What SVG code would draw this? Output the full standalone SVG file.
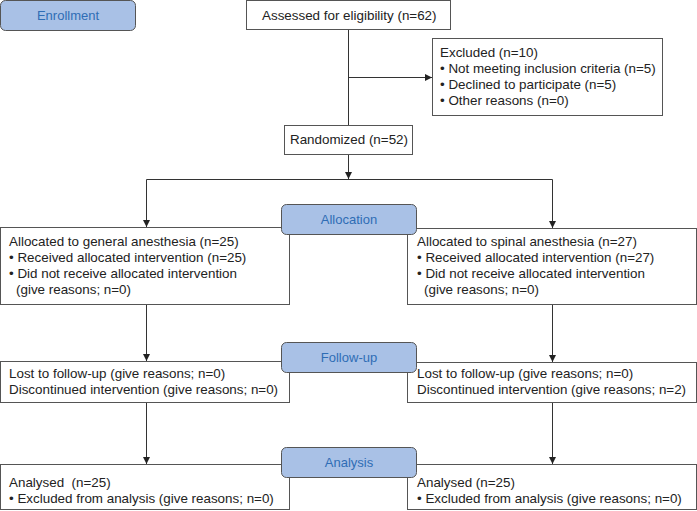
<svg xmlns="http://www.w3.org/2000/svg" width="697" height="511" viewBox="0 0 697 511">
<defs>
<marker id="ah" markerWidth="8" markerHeight="8" refX="7" refY="4" orient="auto" markerUnits="userSpaceOnUse">
<path d="M0,0.5 L7,4 L0,7.5 Z" fill="#222"/>
</marker>
<style>
.box{fill:#fff;stroke:#555;stroke-width:1}
.lab{fill:#a9c1e6;stroke:#555;stroke-width:1}
.t{font-family:"Liberation Sans",Arial,sans-serif;font-size:13.4px;fill:#222}
.lt{font-family:"Liberation Sans",Arial,sans-serif;font-size:13px;fill:#2f6db5;text-anchor:middle}
.c{fill:none;stroke:#333;stroke-width:1}
</style>
</defs>
<rect width="697" height="511" fill="#fff"/>
<g id="enrollment">
<rect class="lab" x="0.5" y="0.5" width="135" height="30" rx="5"/>
<text class="lt" x="68" y="20">Enrollment</text>
</g>
<g id="assessed">
<rect class="box" x="246.5" y="0.5" width="204" height="29"/>
<text class="t" x="262" y="20">Assessed for eligibility (n=62)</text>
</g>
<g id="excluded">
<rect class="box" x="432.5" y="38.5" width="230" height="77"/>
<text class="t" x="440" y="57">Excluded (n=10)</text>
<text class="t" x="440" y="73">• Not meeting inclusion criteria (n=5)</text>
<text class="t" x="440" y="89">• Declined to participate (n=5)</text>
<text class="t" x="440" y="105">• Other reasons (n=0)</text>
</g>
<g id="randomized">
<rect class="box" x="284.5" y="125.5" width="128" height="29"/>
<text class="t" x="290" y="144">Randomized (n=52)</text>
</g>
<g id="connectors">
<line class="c" x1="348.5" y1="30" x2="348.5" y2="125"/>
<line class="c" x1="348.5" y1="77.5" x2="432" y2="77.5" marker-end="url(#ah)"/>
<line class="c" x1="348.5" y1="155" x2="348.5" y2="179" marker-end="url(#ah)"/>
<line class="c" x1="146.5" y1="179.5" x2="552.5" y2="179.5"/>
<line class="c" x1="146.5" y1="179.5" x2="146.5" y2="227" marker-end="url(#ah)"/>
<line class="c" x1="552.5" y1="179.5" x2="552.5" y2="228" marker-end="url(#ah)"/>
<line class="c" x1="146.5" y1="305" x2="146.5" y2="361" marker-end="url(#ah)"/>
<line class="c" x1="552.5" y1="305" x2="552.5" y2="362" marker-end="url(#ah)"/>
<line class="c" x1="146.5" y1="403" x2="146.5" y2="464" marker-end="url(#ah)"/>
<line class="c" x1="552.5" y1="403" x2="552.5" y2="464" marker-end="url(#ah)"/>
</g>
<g id="alloc-general">
<rect class="box" x="0.5" y="227.5" width="289" height="77"/>
<text class="t" x="9" y="246">Allocated to general anesthesia (n=25)</text>
<text class="t" x="9" y="262">• Received allocated intervention (n=25)</text>
<text class="t" x="9" y="278">• Did not receive allocated intervention</text>
<text class="t" x="16" y="294">(give reasons; n=0)</text>
</g>
<g id="alloc-spinal">
<rect class="box" x="407.5" y="228.5" width="289" height="76"/>
<text class="t" x="417" y="246">Allocated to spinal anesthesia (n=27)</text>
<text class="t" x="417" y="262">• Received allocated intervention (n=27)</text>
<text class="t" x="417" y="278">• Did not receive allocated intervention</text>
<text class="t" x="424" y="294">(give reasons; n=0)</text>
</g>
<g id="follow-general">
<rect class="box" x="0.5" y="361.5" width="289" height="41"/>
<text class="t" x="9" y="378">Lost to follow-up (give reasons; n=0)</text>
<text class="t" x="9" y="394">Discontinued intervention (give reasons; n=0)</text>
</g>
<g id="follow-spinal">
<rect class="box" x="407.5" y="362.5" width="289" height="40"/>
<text class="t" x="417" y="378">Lost to follow-up (give reasons; n=0)</text>
<text class="t" x="417" y="394">Discontinued intervention (give reasons; n=2)</text>
</g>
<g id="analysis-general">
<rect class="box" x="0.5" y="464.5" width="289" height="45"/>
<text class="t" x="9" y="487" xml:space="preserve">Analysed  (n=25)</text>
<text class="t" x="9" y="503">• Excluded from analysis (give reasons; n=0)</text>
</g>
<g id="analysis-spinal">
<rect class="box" x="407.5" y="464.5" width="289" height="45"/>
<text class="t" x="417" y="487">Analysed (n=25)</text>
<text class="t" x="417" y="503">• Excluded from analysis (give reasons; n=0)</text>
</g>
<g id="allocation">
<rect class="lab" x="281.5" y="204.5" width="135" height="30" rx="5"/>
<text class="lt" x="349" y="224">Allocation</text>
</g>
<g id="followup">
<rect class="lab" x="281.5" y="342.5" width="135" height="30" rx="5"/>
<text class="lt" x="349" y="362">Follow-up</text>
</g>
<g id="analysis">
<rect class="lab" x="281.5" y="447.5" width="135" height="30" rx="5"/>
<text class="lt" x="349" y="467">Analysis</text>
</g>
</svg>
